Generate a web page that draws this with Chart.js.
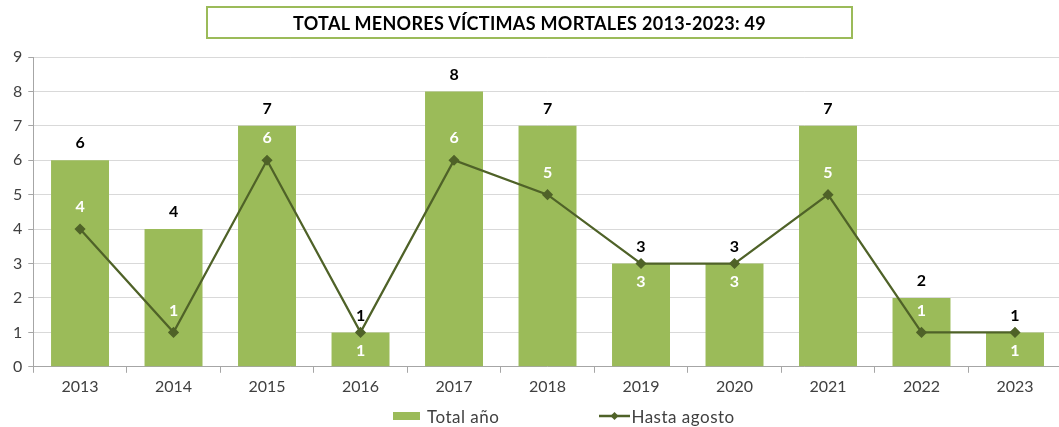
<!DOCTYPE html>
<html>
<head>
<meta charset="utf-8">
<script src="https://cdn.jsdelivr.net/npm/chart.js@4.4.1/dist/chart.umd.min.js"></script>
<style>
  html, body { margin: 0; padding: 0; background: #fff; overflow: hidden; }
  #wrap { position: relative; width: 1059px; height: 427px; overflow: hidden; }
  #chart { position: absolute; left: 0; top: 0; }
  #title {
    position: absolute; left: 206px; top: 6px; width: 643px; height: 29px;
    border: 2px solid #9BBB59; box-sizing: content-box;
    font: bold 18px Lato, sans-serif; color: #000;
    text-align: center; line-height: 30px; letter-spacing: 0.3px;
  }
  #legend {
    position: absolute; left: 393px; top: 405px; height: 22px;
    display: flex; align-items: center;
    font: 17px Lato, sans-serif; color: #404040; letter-spacing: 0.5px;
  }
  .item { display: flex; align-items: center; }
  .item + .item { margin-left: 100px; }
  #iconBar { margin-right: 7px; }
  #iconLine { margin-right: 1px; }
</style>
</head>
<body>
<div id="wrap">
  <canvas id="chart" width="1068" height="427"></canvas>
  <div id="title">TOTAL MENORES VÍCTIMAS MORTALES 2013-2023: 49</div>
  <div id="legend">
    <div class="item"><canvas id="iconBar" width="27" height="10"></canvas><span>Total año</span></div>
    <div class="item"><canvas id="iconLine" width="31" height="10"></canvas><span>Hasta agosto</span></div>
  </div>
</div>
<script>
// Datos
const years = ['2013', '2014', '2015', '2016', '2017', '2018', '2019', '2020', '2021', '2022', '2023'];
const totalAnio = [6, 4, 7, 1, 8, 7, 3, 3, 7, 2, 1];
const hastaAgosto = [4, 1, 6, 1, 6, 5, 3, 3, 5, 1, 1];
// etiquetas de la línea que van debajo del punto
const lineLabelBelow = [false, false, false, true, false, false, true, true, false, false, true];

const barColor = '#9BBB59';
const lineColor = '#4F6228';
const fontFamily = 'Lato, sans-serif';

// iconos de la leyenda
(function drawLegendIcons() {
    let g = document.getElementById('iconBar').getContext('2d');
    g.fillStyle = barColor;
    g.fillRect(0, 1, 27, 8);
    g = document.getElementById('iconLine').getContext('2d');
    g.strokeStyle = lineColor;
    g.lineWidth = 2.5;
    g.beginPath(); g.moveTo(0, 5); g.lineTo(31, 5); g.stroke();
    g.fillStyle = lineColor;
    g.beginPath(); g.moveTo(15.5, 1); g.lineTo(19.5, 5); g.lineTo(15.5, 9); g.lineTo(11.5, 5); g.closePath(); g.fill();
})();

const valueLabels = {
    id: 'valueLabels',
    afterDatasetsDraw(chart) {
        const ctx = chart.ctx;
        ctx.save();
        ctx.textAlign = 'center';
        ctx.textBaseline = 'middle';
        ctx.font = 'bold 16px ' + fontFamily;
        // barras
        const barMeta = chart.getDatasetMeta(0);
        ctx.fillStyle = '#000';
        barMeta.data.forEach((el, i) => {
            ctx.fillText(String(totalAnio[i]), el.x, el.y - 17);
        });
        // linea
        const lineMeta = chart.getDatasetMeta(1);
        ctx.fillStyle = '#fff';
        lineMeta.data.forEach((el, i) => {
            const dy = lineLabelBelow[i] ? 18 : -22;
            ctx.fillText(String(hastaAgosto[i]), el.x, el.y + dy);
        });
        ctx.restore();
    }
};

const ctx = document.getElementById('chart').getContext('2d');
new Chart(ctx, {
    type: 'bar',
    data: {
        labels: years,
        datasets: [
            {
                type: 'bar',
                label: 'Total año',
                data: totalAnio,
                backgroundColor: barColor,
                borderWidth: 0,
                barPercentage: 0.62,
                categoryPercentage: 1,
                order: 2
            },
            {
                type: 'line',
                label: 'Hasta agosto',
                data: hastaAgosto,
                borderColor: lineColor,
                backgroundColor: lineColor,
                borderWidth: 2.25,
                pointStyle: 'rectRot',
                pointRadius: 4,
                pointHoverRadius: 4,
                tension: 0,
                order: 1
            }
        ]
    },
    options: {
        responsive: false,
        animation: false,
        layout: {
            padding: { top: 57, left: 7, right: 4, bottom: 27 }
        },
        plugins: {
            title: { display: false },
            tooltip: { enabled: false },
            legend: { display: false }
        },
        scales: {
            x: {
                offset: true,
                grid: {
                    offset: true,
                    drawOnChartArea: false,
                    tickLength: 6,
                    color: '#A6A6A6'
                },
                border: { color: '#A6A6A6' },
                ticks: {
                    color: '#404040',
                    font: { family: fontFamily, size: 16 },
                    padding: 4
                }
            },
            y: {
                min: 0,
                max: 9,
                ticks: {
                    stepSize: 1,
                    color: '#404040',
                    font: { family: fontFamily, size: 16 },
                    padding: 6
                },
                grid: {
                    color: '#D9D9D9',
                    tickLength: 5,
                    tickColor: '#A6A6A6'
                },
                border: { color: '#A6A6A6' }
            }
        }
    },
    plugins: [valueLabels]
});
</script>
</body>
</html>
